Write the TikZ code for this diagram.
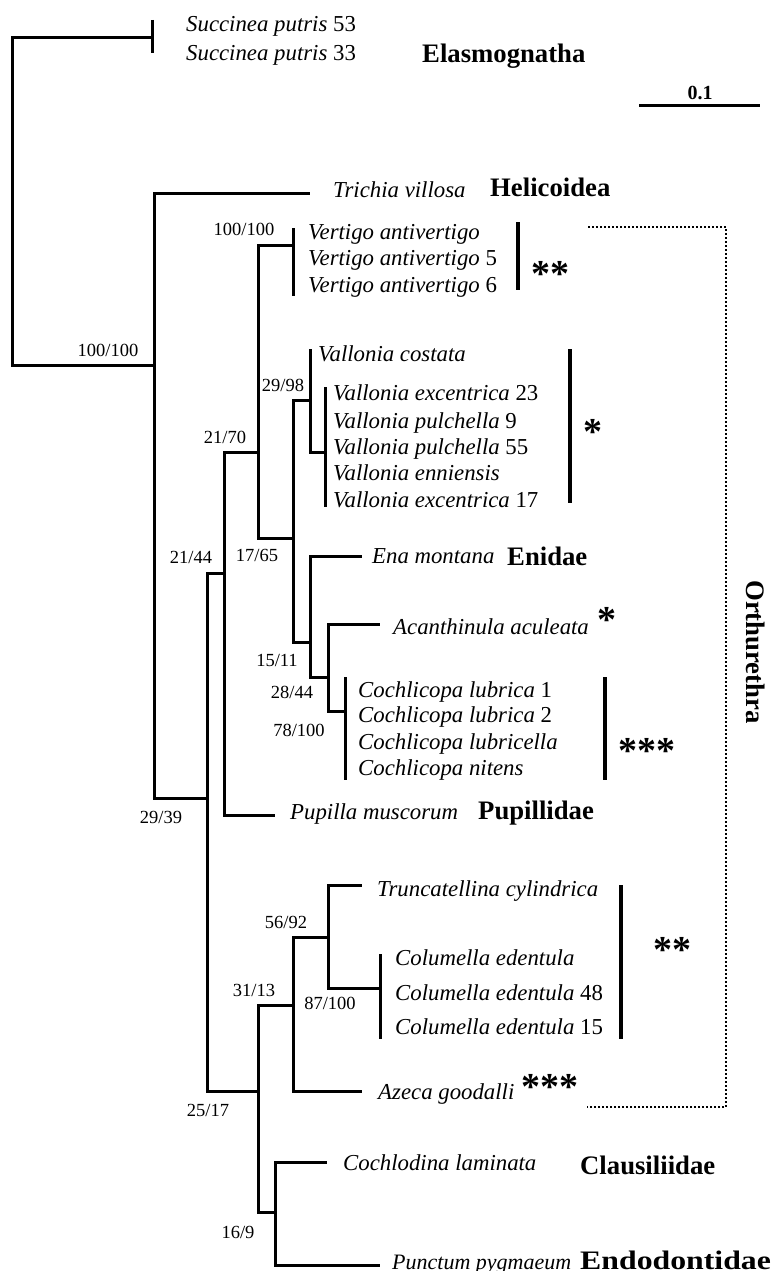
\documentclass[tikz,border=0pt]{standalone}
\usepackage{fontspec}
\setmainfont{Liberation Serif}
\begin{document}
\begin{tikzpicture}[x=1pt,y=-1pt,
  tree/.style={line width=3pt},
  clade/.style={line width=4.5pt},
  tip/.style={anchor=base west,inner sep=0pt,font=\fontsize{22.8}{26}\selectfont\itshape},
  fam/.style={anchor=base west,inner sep=0pt,font=\fontsize{26.7}{30}\selectfont\bfseries},
  supp/.style={anchor=base,inner sep=0pt,font=\fontsize{18.5}{20}\selectfont},
  stars/.style={anchor=base,inner sep=0pt,font=\fontsize{38}{40}\selectfont\bfseries},
  bracket/.style={line width=2.6pt,dash pattern=on 2pt off 2pt}]
\useasboundingbox (0,0) rectangle (772,1271);
% ---- tree coordinates
\coordinate (root) at (12,200);
\coordinate (succ) at (152,38);
\coordinate (nA) at (154,365);
\coordinate (tTri) at (310,193);
\coordinate (nC) at (207,798);
\coordinate (nD) at (224,573);
\coordinate (nE) at (258,1091);
\coordinate (nF) at (258,452);
\coordinate (tPup) at (275,815);
\coordinate (vert) at (293,245);
\coordinate (nG) at (293,538);
\coordinate (nH) at (310,400);
\coordinate (nI) at (310,642);
\coordinate (tCos) at (310,349);
\coordinate (vall) at (325,452);
\coordinate (tEna) at (362,556);
\coordinate (nJ) at (328,677);
\coordinate (tAca) at (380,624);
\coordinate (coch) at (345,711);
\coordinate (nK) at (293,1005);
\coordinate (nL) at (275,1212);
\coordinate (nM) at (328,937);
\coordinate (tAze) at (362,1091);
\coordinate (tTru) at (362,885);
\coordinate (colu) at (380,988);
\coordinate (tCla) at (327,1162);
\coordinate (tPun) at (380,1265);
% collapsed tip bars
\coordinate (succT) at (152,20);  \coordinate (succB) at (152,53);
\coordinate (vertT) at (293,228); \coordinate (vertB) at (293,296);
\coordinate (vallT) at (325,387); \coordinate (vallB) at (325,507);
\coordinate (cochT) at (345,677); \coordinate (cochB) at (345,780);
\coordinate (coluT) at (380,954); \coordinate (coluB) at (380,1039);
% ---- branches
\draw[tree] (root) |- (succ);
\draw[tree] (root) |- (nA);
\draw[tree] (nA) |- (tTri);
\draw[tree] (nA) |- (nC);
\draw[tree] (nC) |- (nD);
\draw[tree] (nC) |- (nE);
\draw[tree] (nD) |- (nF);
\draw[tree] (nD) |- (tPup);
\draw[tree] (nF) |- (vert);
\draw[tree] (nF) |- (nG);
\draw[tree] (nG) |- (nH);
\draw[tree] (nG) |- (nI);
\draw[tree] (nH) |- (tCos);
\draw[tree] (nH) |- (vall);
\draw[tree] (nI) |- (tEna);
\draw[tree] (nI) |- (nJ);
\draw[tree] (nJ) |- (tAca);
\draw[tree] (nJ) |- (coch);
\draw[tree] (nE) |- (nK);
\draw[tree] (nE) |- (nL);
\draw[tree] (nK) |- (nM);
\draw[tree] (nK) |- (tAze);
\draw[tree] (nM) |- (tTru);
\draw[tree] (nM) |- (colu);
\draw[tree] (nL) |- (tCla);
\draw[tree] (nL) |- (tPun);
\draw[tree] (succT) -- (succB);
\draw[tree] (vertT) -- (vertB);
\draw[tree] (vallT) -- (vallB);
\draw[tree] (cochT) -- (cochB);
\draw[tree] (coluT) -- (coluB);
% ---- tip labels
\node[tip] (lSuc1) at (186,32) {Succinea putris \upshape 53};
\node[tip] (lSuc2) at (186,61) {Succinea putris \upshape 33};
\node[tip] (lTri) at (333,197) {Trichia villosa};
\node[tip] (lVer1) at (308,239) {Vertigo antivertigo};
\node[tip] (lVer2) at (308,265) {Vertigo antivertigo \upshape 5};
\node[tip] (lVer3) at (308,292) {Vertigo antivertigo \upshape 6};
\node[tip] (lVal0) at (318,361) {Vallonia costata};
\node[tip] (lVal1) at (333,400) {Vallonia excentrica \upshape 23};
\node[tip] (lVal2) at (333,428) {Vallonia pulchella \upshape 9};
\node[tip] (lVal3) at (333,454) {Vallonia pulchella \upshape 55};
\node[tip] (lVal4) at (333,480) {Vallonia enniensis};
\node[tip] (lVal5) at (333,507) {Vallonia excentrica \upshape 17};
\node[tip] (lEna) at (372,563) {Ena montana};
\node[tip] (lAca) at (393,634) {Acanthinula aculeata};
\node[tip] (lCoc1) at (358,697) {Cochlicopa lubrica \upshape 1};
\node[tip] (lCoc2) at (358,722) {Cochlicopa lubrica \upshape 2};
\node[tip] (lCoc3) at (358,749) {Cochlicopa lubricella};
\node[tip] (lCoc4) at (358,775) {Cochlicopa nitens};
\node[tip] (lPup) at (290,819) {Pupilla muscorum};
\node[tip] (lTru) at (377,896) {Truncatellina cylindrica};
\node[tip] (lCol1) at (395,965) {Columella edentula};
\node[tip] (lCol2) at (395,1000) {Columella edentula \upshape 48};
\node[tip] (lCol3) at (395,1034) {Columella edentula \upshape 15};
\node[tip] (lAze) at (378,1099) {Azeca goodalli};
\node[tip] (lCla) at (343,1170) {Cochlodina laminata};
\node[tip,font=\fontsize{22}{26}\selectfont\itshape] (lPun) at (392,1269) {Punctum pygmaeum};
% ---- family labels
\node[fam] (fEla) at (422,63) {Elasmognatha};
\node[fam] (fHel) at (490,196) {Helicoidea};
\node[fam] (fEni) at (507,565) {Enidae};
\node[fam] (fPup) at (478,819) {Pupillidae};
\node[fam] (fCla) at (580,1174) {Clausiliidae};
\node[fam,xscale=1.19,transform shape] (fEnd) at (580,1269) {Endodontidae};
\node[inner sep=0pt,rotate=-90,font=\fontsize{26.7}{30}\selectfont\bfseries] (fOrt) at (756,652) {Orthurethra};
% ---- support values
\node[supp] (s1) at (108,356) {100/100};
\node[supp] (s2) at (244,235) {100/100};
\node[supp] (s3) at (283,391) {29/98};
\node[supp] (s4) at (225,443) {21/70};
\node[supp] (s5) at (191,563) {21/44};
\node[supp] (s6) at (257,561) {17/65};
\node[supp] (s7) at (277,666) {15/11};
\node[supp] (s8) at (292,698) {28/44};
\node[supp] (s9) at (299,736) {78/100};
\node[supp] (s10) at (161,823) {29/39};
\node[supp] (s11) at (286,928) {56/92};
\node[supp] (s12) at (254,996) {31/13};
\node[supp] (s13) at (330,1009) {87/100};
\node[supp] (s14) at (208,1116) {25/17};
\node[supp] (s15) at (238,1238) {16/9};
% ---- clade bars and stars
\coordinate (b1T) at (518,222); \coordinate (b1B) at (518,290);
\coordinate (b2T) at (570,349); \coordinate (b2B) at (570,503);
\coordinate (b3T) at (605,677); \coordinate (b3B) at (605,780);
\coordinate (b4T) at (621,885); \coordinate (b4B) at (621,1039);
\draw[clade] (b1T) -- (b1B);
\draw[clade] (b2T) -- (b2B);
\draw[clade] (b3T) -- (b3B);
\draw[clade] (b4T) -- (b4B);
\node[stars] (st1) at (550,286) {**};
\node[stars] (st2) at (593,444) {*};
\node[stars] (st3) at (607,632) {*};
\node[stars] (st4) at (647,763) {***};
\node[stars] (st5) at (672,962) {**};
\node[stars] (st6) at (550,1099) {***};
% ---- Orthurethra bracket
\coordinate (brT) at (588,227);
\coordinate (brC) at (726,1107);
\coordinate (brB) at (587,1107);
\draw[bracket] (brT) -| (brC) -- (brB);
% ---- scale bar
\coordinate (scL) at (639,106);
\coordinate (scR) at (760,106);
\draw[tree] (scL) -- (scR);
\node[anchor=base,inner sep=0pt,font=\fontsize{20}{22}\selectfont\bfseries] (scLab) at (700,100) {0.1};
\end{tikzpicture}
\end{document}
